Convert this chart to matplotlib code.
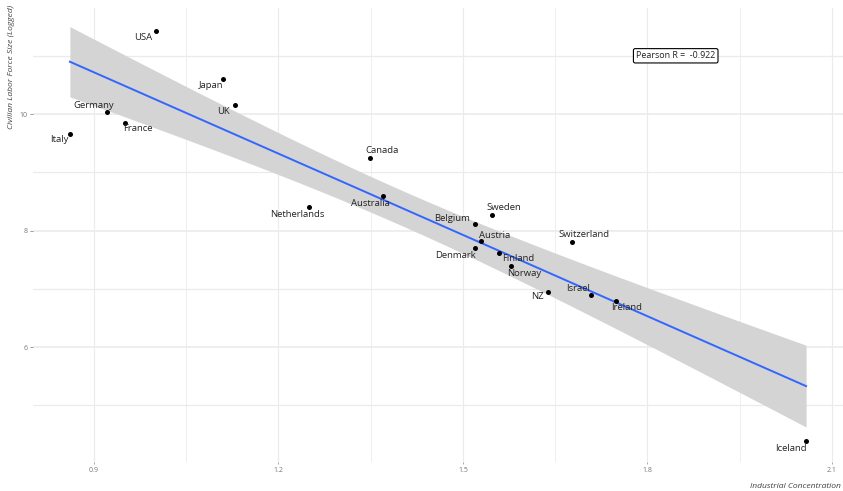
import matplotlib

matplotlib.use("Agg")
import matplotlib.pyplot as plt
import numpy as np

# data
countries = [
    "USA", "Japan", "UK", "Germany", "France", "Italy", "Canada", "Australia",
    "Netherlands", "Sweden", "Belgium", "Austria", "Denmark", "Finland",
    "Norway", "Switzerland", "NZ", "Israel", "Ireland", "Iceland",
]
concentration = [
    1.001, 1.110, 1.129, 0.921, 0.950, 0.861, 1.349, 1.370,
    1.250, 1.548, 1.520, 1.529, 1.520, 1.559,
    1.579, 1.678, 1.638, 1.708, 1.749, 2.058,
]
labor_force = [
    11.43, 10.60, 10.16, 10.03, 9.85, 9.66, 9.25, 8.59,
    8.40, 8.27, 8.11, 7.82, 7.70, 7.61,
    7.40, 7.80, 6.95, 6.89, 6.80, 4.39,
]
x_ticks = [0.9, 1.2, 1.5, 1.8, 2.1]
y_ticks = [6, 8, 10]
pearson_label = "Pearson R =  -0.922"

# label offsets in pixels (dx, dy), positive dy = upward
label_offsets = {
    "USA": (-13, -7), "Japan": (-12, -6), "UK": (-11, -7), "Germany": (-13, 7),
    "France": (13, -6), "Italy": (-11, -6), "Canada": (12, 7), "Australia": (-13, -7),
    "Netherlands": (-12, -7), "Sweden": (11, 7), "Belgium": (-23, 6), "Austria": (14, 6),
    "Denmark": (-20, -7), "Finland": (19, -5), "Norway": (13, -8), "Switzerland": (12, 8),
    "NZ": (-10, -5), "Israel": (-13, 7), "Ireland": (11, -7), "Iceland": (-15, -7),
}

FONT = "Open Sans"
GRID = "#ebebeb"

x = np.array(concentration)
y = np.array(labor_force)
n = len(x)
slope, intercept = np.polyfit(x, y, 1)
xs = np.linspace(x.min(), x.max(), 80)
fit = intercept + slope * xs
resid = y - (intercept + slope * x)
s_err = np.sqrt(np.sum(resid**2) / (n - 2))
sxx = np.sum((x - x.mean()) ** 2)
t_crit = 2.100922  # t(0.975, df=18)
half = t_crit * s_err * np.sqrt(1 / n + (xs - x.mean()) ** 2 / sxx)

fig = plt.figure(figsize=(8.43, 4.91), dpi=100)
ax = fig.add_axes([33 / 843, 29 / 491, 810 / 843, 454 / 491])

ax.set_xlim(0.801, 2.118)
ax.set_ylim(4.03, 11.82)

for v in x_ticks:
    ax.axvline(v, color=GRID, lw=0.8, zorder=0)
for v in [1.05, 1.35, 1.65, 1.95]:
    ax.axvline(v, color=GRID, lw=0.6, zorder=0)
for v in y_ticks:
    ax.axhline(v, color=GRID, lw=1.2, zorder=0)
for v in [5, 7, 9, 11]:
    ax.axhline(v, color=GRID, lw=0.9, zorder=0)

ax.fill_between(xs, fit - half, fit + half, color="#d4d4d4", lw=0, zorder=1)
ax.plot(xs, fit, color="#3366FF", lw=1.4, zorder=2)
ax.scatter(x, y, s=13, color="black", zorder=3, linewidths=0)

for name, xi, yi in zip(countries, x, y):
    dx, dy = label_offsets[name]
    ax.annotate(
        name,
        xy=(xi, yi),
        xytext=(dx, dy),
        textcoords="offset pixels",
        ha="center",
        va="center",
        fontsize=6.8,
        family=FONT,
        color="#222222",
        zorder=4,
    )

ax.text(
    1.846,
    11.0,
    pearson_label,
    ha="center",
    va="center",
    fontsize=6.4,
    family=FONT,
    color="#222222",
    bbox=dict(boxstyle="round,pad=0.3,rounding_size=0.2", fc="white", ec="black", lw=0.8),
    zorder=5,
)

for side in ax.spines.values():
    side.set_visible(False)
ax.set_xticks(x_ticks)
ax.set_xticklabels([f"{v:.1f}" for v in x_ticks])
ax.set_yticks(y_ticks)
ax.set_yticklabels([str(v) for v in y_ticks])
ax.tick_params(axis="x", length=1.5, width=0.5, color="#888888", pad=2,
               labelsize=5, labelcolor="#777777")
ax.tick_params(axis="y", length=2, width=0.6, color="#888888", pad=2,
               labelsize=5, labelcolor="#777777")
for lab in ax.get_xticklabels() + ax.get_yticklabels():
    lab.set_family(FONT)

fig.text(841 / 843, 1 - 486 / 491, "Industrial Concentration", ha="right", va="center",
         fontsize=6.1, style="italic", family=FONT, color="#444444")
fig.text(12 / 843, 1 - 5 / 491, "Civilian Labor Force Size (Logged)", ha="center", va="top",
         rotation=90, fontsize=6.1, style="italic", family=FONT, color="#444444")

fig.savefig("out.png", dpi=100)
